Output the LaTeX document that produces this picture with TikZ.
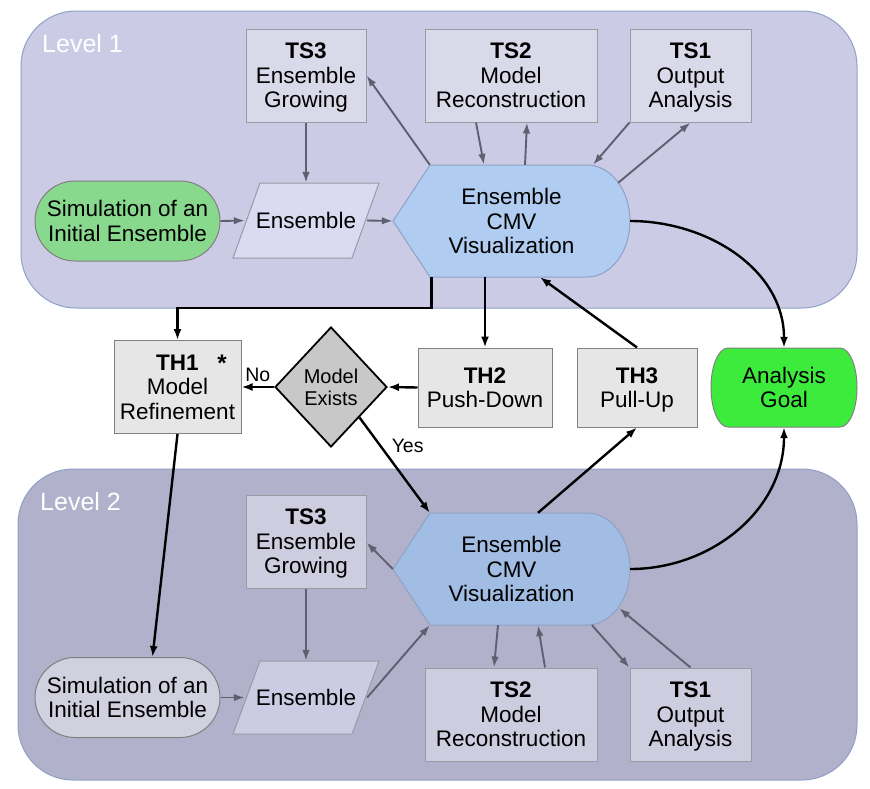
\documentclass[tikz,border=0pt]{standalone}
\usepackage{fontspec}
\setmainfont{Liberation Sans}
\usepackage{tikz}
\usetikzlibrary{arrows.meta, shapes.geometric, shapes.misc, calc}

\definecolor{levela}{HTML}{CBCBE6}
\definecolor{levelb}{HTML}{B1B1CB}
\definecolor{levelrand}{HTML}{8FA1C6}
\definecolor{tsa}{HTML}{D9D9EA}
\definecolor{tsb}{HTML}{CDCDDF}
\definecolor{ensa}{HTML}{DADAF2}
\definecolor{ensb}{HTML}{CBCBE3}
\definecolor{sima}{HTML}{88D98E}
\definecolor{simb}{HTML}{D0D0DF}
\definecolor{cmva}{HTML}{B0CCF0}
\definecolor{cmvb}{HTML}{A2BDE3}
\definecolor{thgrau}{HTML}{E6E6E6}
\definecolor{diagrau}{HTML}{C8C8C8}
\definecolor{ziel}{HTML}{3DEB3D}
\definecolor{pfeilgrau}{HTML}{5F5F70}
\definecolor{randgrau}{HTML}{9A9AA5}

\begin{document}
\begin{tikzpicture}[x=1pt, y=1pt, inner sep=0pt,
	font=\fontsize{22.5}{24.5}\selectfont,
	tsbox/.style={rectangle, draw=randgrau, line width=1pt, align=center, text depth=0pt, minimum height=93pt},
	thbox/.style={rectangle, draw=gray, line width=1pt, fill=thgrau, align=center, text depth=0pt},
	ens/.style={rectangle, minimum width=122pt, minimum height=75pt},
	sim/.style={rounded rectangle, draw=gray, line width=1pt, align=center, minimum width=185pt, minimum height=80pt},
	formrand/.style={draw=levelrand, line width=1pt},
	cmvtext/.style={rectangle, align=center, minimum width=237pt, minimum height=112pt},
	garrow/.style={draw=pfeilgrau, line width=1.9pt, -{Latex[length=11pt,width=7.5pt]}},
	barrow/.style={draw=black, line width=2.4pt, -{Latex[length=11pt,width=8pt]}}]

	\useasboundingbox (0,0) rectangle (870,-788);

	% Ebenen
	\draw[fill=levela, draw=levelrand, line width=1pt, rounded corners=55pt] (21,-11) rectangle (857,-308);
	\draw[fill=levelb, draw=levelrand, line width=1pt, rounded corners=55pt] (18,-469) rectangle (857,-780);
	\node[anchor=west, text=white, font=\fontsize{25}{28}\selectfont](L1) at (42,-44) {Level 1};
	\node[anchor=west, text=white, font=\fontsize{25}{28}\selectfont](L2) at (40,-502) {Level 2};

	% CMV Formen
	\draw[formrand, fill=cmva] (393,-221) -- (430,-165) -- (587,-165) arc[start angle=90, end angle=-90, x radius=43, y radius=56] -- (430,-277) -- cycle;
	\draw[formrand, fill=cmvb] (393,-569) -- (430,-513) -- (587,-513) arc[start angle=90, end angle=-90, x radius=43, y radius=56] -- (430,-625) -- cycle;

	% Parallelogramme
	\draw[formrand, draw=randgrau, fill=ensa] (233,-258) -- (260,-183) -- (379,-183) -- (352,-258) -- cycle;
	\draw[formrand, draw=randgrau, fill=ensb] (233,-734) -- (260,-661) -- (379,-661) -- (352,-734) -- cycle;

	% Ziel
	\draw[draw=gray, line width=1pt, fill=ziel] (728,-348) -- (840,-348) arc[start angle=90, end angle=-90, x radius=17, y radius=39.5] -- (728,-427) arc[start angle=270, end angle=90, x radius=17, y radius=39.5] -- cycle;

	% Ebene 1
	\node[tsbox, fill=tsa, minimum width=120pt](tsa3) at (306,-75.5) {\textbf{TS3}\\Ensemble\\Growing};
	\node[tsbox, fill=tsa, minimum width=172pt](tsa2) at (511,-75.5) {\textbf{TS2}\\Model\\Reconstruction};
	\node[tsbox, fill=tsa, minimum width=121pt](tsa1) at (690.5,-75.5) {\textbf{TS1}\\Output\\Analysis};
	\node[sim, fill=sima](sima) at (127.5,-221) {Simulation of an\\Initial Ensemble};
	\node[ens](ensa) at (306,-220.5) {Ensemble};
	\node[cmvtext](cmva) at (511.5,-221) {Ensemble\\CMV\\Visualization};

	% Mitte
	\node[thbox, minimum width=127pt, minimum height=93pt](th1) at (177.5,-387) {\textbf{TH1}\\Model\\Refinement};
	\node[font=\fontsize{24}{28}\selectfont\bfseries](stern) at (222,-363) {*};
	\node[diamond, draw=black, line width=1.8pt, fill=diagrau, align=center, minimum width=112pt, minimum height=120pt, font=\fontsize{20}{22}\selectfont](dia) at (331,-387) {Model\\Exists};
	\node[thbox, minimum width=134pt, minimum height=79pt](th2) at (485,-387.5) {\textbf{TH2}\\Push-Down};
	\node[thbox, minimum width=120pt, minimum height=79pt](th3) at (637,-387.5) {\textbf{TH3}\\Pull-Up};
	\node[rectangle, align=center, minimum width=146pt, minimum height=79pt](goal) at (784,-387.5) {Analysis\\Goal};

	% Ebene 2
	\node[tsbox, fill=tsb, minimum width=120pt](tsb3) at (306,-541.5) {\textbf{TS3}\\Ensemble\\Growing};
	\node[tsbox, fill=tsb, minimum width=172pt](tsb2) at (511,-714.5) {\textbf{TS2}\\Model\\Reconstruction};
	\node[tsbox, fill=tsb, minimum width=121pt](tsb1) at (690.5,-714.5) {\textbf{TS1}\\Output\\Analysis};
	\node[sim, fill=simb](simb) at (127.5,-697.5) {Simulation of an\\Initial Ensemble};
	\node[ens, minimum height=73pt](ensb) at (306,-697.5) {Ensemble};
	\node[cmvtext](cmvb) at (511.5,-569) {Ensemble\\CMV\\Visualization};

	% graue Pfeile, Ebene 1
	\draw[garrow](sima.east) -- (ensa.west);
	\draw[garrow](ensa.east) -- (cmva.west);
	\draw[garrow](tsa3.south) -- (ensa.north);
	\draw[garrow]([xshift=37pt]cmva.north west) -- (tsa3.east);
	\draw[garrow]([xshift=-35pt]tsa2.south) -- ([xshift=-27.5pt]cmva.north);
	\draw[garrow]([xshift=13.5pt]cmva.north) -- ([xshift=16pt]tsa2.south);
	\draw[garrow](tsa1.south west) -- ([xshift=81.5pt]cmva.north);
	\draw[garrow]([xshift=-12pt,yshift=-18pt]cmva.north east) -- (tsa1.south);

	% graue Pfeile, Ebene 2
	\draw[garrow](simb.east) -- (ensb.west);
	\draw[garrow](ensb.east) -- ([xshift=37pt]cmvb.south west);
	\draw[garrow](tsb3.south) -- (ensb.north);
	\draw[garrow](cmvb.west) -- ([yshift=-1pt]tsb3.east);
	\draw[garrow]([xshift=-13.5pt]cmvb.south) -- ([xshift=-17pt]tsb2.north);
	\draw[garrow]([xshift=34pt]tsb2.north) -- ([xshift=26.5pt]cmvb.south);
	\draw[garrow]([xshift=80.5pt]cmvb.south) -- (tsb2.north east -| tsb1.north west);
	\draw[garrow](tsb1.north) -- ([xshift=-11pt,yshift=17pt]cmvb.south east);

	% schwarze Pfeile
	\draw[barrow]([xshift=38.5pt]cmva.south west) -- ++(0,-31) -| (th1.north);
	\draw[barrow](cmva.south -| th2.north) -- (th2.north);
	\draw[barrow](th3.north) -- ([xshift=28.5pt]cmva.south);
	\draw[barrow](cmva.east) to[out=0, in=90] (goal.north);
	\draw[barrow](th2.west) -- (dia.east);
	\draw[barrow](dia.west) -- node[above=4pt, font=\fontsize{19.5}{22}\selectfont]{No} (th1.east);
	\draw[barrow](dia.south east) -- node[pos=0.3, right=10pt, font=\fontsize{19.5}{22}\selectfont]{Yes} ([xshift=37pt]cmvb.north west);
	\draw[barrow](th1.south) -- ([xshift=25pt]simb.north);
	\draw[barrow]([xshift=26.5pt]cmvb.north) -- (th3.south);
	\draw[barrow](cmvb.east) to[out=0, in=-90] (goal.south);

\end{tikzpicture}
\end{document}
